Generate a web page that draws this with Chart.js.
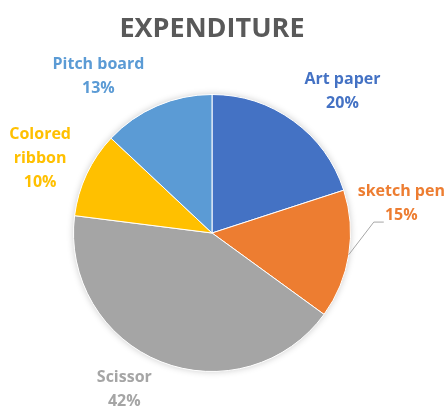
<!DOCTYPE html>
<html>
<head>
<meta charset="utf-8">
<script src="https://cdn.jsdelivr.net/npm/chart.js@4"></script>
<style>
  html, body { margin: 0; padding: 0; background: #fff; }
  #wrap { width: 447px; height: 416px; }
</style>
</head>
<body>
<div id="wrap"><canvas id="pie" width="447" height="416"></canvas></div>
<script>
// data
const chartTitle = 'EXPENDITURE';
const categories = ['Art paper', 'sketch pen', 'Scissor', 'Colored ribbon', 'Pitch board'];
const values     = [20, 15, 42, 10, 13];
const colors     = ['#4472C4', '#ED7D31', '#A5A5A5', '#FFC000', '#5B9BD5'];

// label layout: centre of each label block, in pie radii from the pie centre
const labelAt   = [[0.942, -1.022], [1.367, -0.216], [-0.633, 1.129], [-1.241, -0.540], [-0.820, -1.129]];
const labelWrap = [false, false, false, true, false];
const FONT = '"Open Sans", "Liberation Sans", sans-serif';

// title + outside labels, Excel style
const outsideLabels = {
    id: 'outsideLabels',
    beforeDatasetsDraw(chart) {
        // soft shadow behind the pie
        const arc = chart.getDatasetMeta(0).data[0];
        const ctx = chart.ctx;
        ctx.save();
        ctx.shadowColor = 'rgba(0,0,0,0.22)';
        ctx.shadowBlur = 7;
        ctx.fillStyle = '#fff';
        ctx.beginPath();
        ctx.arc(arc.x, arc.y, arc.outerRadius, 0, Math.PI * 2);
        ctx.fill();
        ctx.restore();
    },
    afterDraw(chart) {
        const ctx = chart.ctx;
        const meta = chart.getDatasetMeta(0);
        const total = values.reduce((s, v) => s + v, 0);

        ctx.save();
        ctx.textAlign = 'center';
        ctx.textBaseline = 'middle';

        ctx.fillStyle = '#595959';
        ctx.font = 'bold 27px ' + FONT;
        ctx.fillText(chartTitle, 212, 29);

        ctx.font = 'bold 16px ' + FONT;
        meta.data.forEach((arc, i) => {
            const r = arc.outerRadius;
            const lines = labelWrap[i] ? categories[i].split(' ') : [categories[i]];
            lines.push(Math.round(values[i] / total * 100) + '%');
            const cx = arc.x + labelAt[i][0] * r;
            const cy = arc.y + labelAt[i][1] * r;
            const lh = 24;
            const y0 = cy - (lines.length - 1) * lh / 2;
            ctx.fillStyle = colors[i];
            lines.forEach((t, k) => ctx.fillText(t, cx, y0 + k * lh));

            // leader line for the label that sits off its slice
            if (i === 1) {
                const mid = (arc.startAngle + arc.endAngle) / 2;
                const sx = arc.x + Math.cos(mid) * r;
                const sy = arc.y + Math.sin(mid) * r;
                const ey = y0 + lh + 7;
                ctx.strokeStyle = '#A6A6A6';
                ctx.lineWidth = 1;
                ctx.beginPath();
                ctx.moveTo(sx, sy);
                ctx.lineTo(sx + 25, ey);
                ctx.lineTo(sx + 35, ey);
                ctx.stroke();
            }
        });
        ctx.restore();
    }
};

new Chart(document.getElementById('pie'), {
    type: 'pie',
    data: {
        labels: categories,
        datasets: [{
            data: values,
            backgroundColor: colors,
            borderColor: '#fff',
            borderWidth: 1
        }]
    },
    options: {
        responsive: false,
        animation: false,
        layout: { padding: { left: 73, right: 96, top: 94, bottom: 44 } },
        plugins: {
            legend: { display: false },
            title: { display: false },
            tooltip: { enabled: false }
        }
    },
    plugins: [outsideLabels]
});
</script>
</body>
</html>
